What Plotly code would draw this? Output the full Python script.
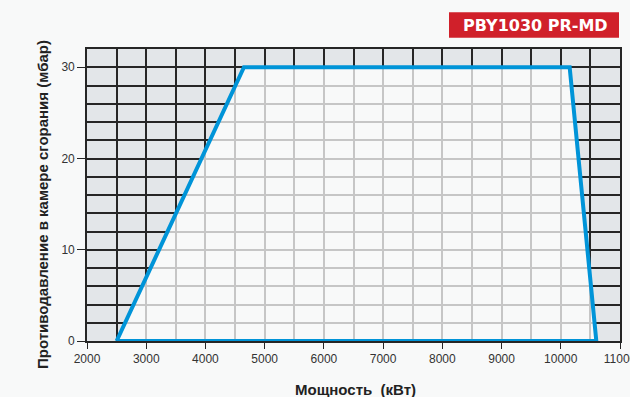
import plotly.graph_objects as go

# Data
power_kw = [2500, 4650, 10150, 10600, 2500]
pressure_mbar = [0, 30, 30, 0, 0]
x_ticks = [2000, 3000, 4000, 5000, 6000, 7000, 8000, 9000, 10000, 11000]
y_ticks = [0, 10, 20, 30]
title_text = "PBY1030 PR-MD"
x_title = "Мощность  (кВт)"
y_title = "Противодавление в камере сгорания (мбар)"

fig = go.Figure()
fig.add_trace(go.Scatter(
    x=power_kw, y=pressure_mbar, mode="lines",
    fill="toself", fillcolor="rgba(255,255,255,0.74)",
    line=dict(color="#0094d8", width=4),
    cliponaxis=False, hoverinfo="skip", showlegend=False,
))

dark = "#262626"
tick_font = dict(family="Liberation Sans, Arial", size=12, color="#333333")
fig.update_xaxes(
    range=[2000, 11000], tickvals=x_ticks, ticktext=[str(v) for v in x_ticks],
    showgrid=True, gridcolor=dark, gridwidth=1.6,
    minor=dict(dtick=500, showgrid=True, gridcolor=dark, gridwidth=1.6, ticks=""),
    showline=True, linecolor=dark, linewidth=1.6, mirror=True,
    ticks="outside", ticklen=6, tickcolor=dark, tickwidth=1.4,
    tickfont=tick_font, zeroline=False, layer="below traces",
    ticklabeloverflow="allow", automargin=False,
)
fig.update_yaxes(
    range=[0, 32], tickvals=y_ticks,
    showgrid=True, gridcolor=dark, gridwidth=1.6,
    minor=dict(dtick=2, showgrid=True, gridcolor=dark, gridwidth=1.6, ticks=""),
    showline=True, linecolor=dark, linewidth=1.6, mirror=True,
    ticks="outside", ticklen=8, tickcolor=dark, tickwidth=1.4,
    tickfont=tick_font, zeroline=False, layer="below traces",
    automargin=False,
)

# plot area target in page pixels: x 87..620, y 49..341
PL, PR, PT, PB = 87, 620, 49, 341
FW, FH = 630, 397
W, H = PR - PL, PB - PT

def px(x):
    return (x - PL) / W

def py(y):
    return (PB - y) / H

fig.update_layout(
    width=FW, height=FH,
    margin=dict(l=PL, r=FW - PR, t=PT, b=FH - PB),
    paper_bgcolor="#f8f9f9", plot_bgcolor="#e3e6e9",
    shapes=[dict(type="rect", xref="paper", yref="paper",
                 x0=px(449), x1=px(619), y0=py(37.7), y1=py(12.3),
                 fillcolor="#d0202a", line=dict(width=0), layer="above")],
    annotations=[
        dict(text=f"<b>{title_text}</b>", xref="paper", yref="paper",
             x=px(535), y=py(25.5), showarrow=False,
             font=dict(family="DejaVu Sans", size=16, color="white"),
             xanchor="center", yanchor="middle"),
        dict(text=f"<b>{x_title}</b>", xref="paper", yref="paper",
             x=px(355), y=py(389), showarrow=False,
             font=dict(family="Liberation Sans, Arial", size=15, color="#222222"),
             xanchor="center", yanchor="middle"),
        dict(text=f"<b>{y_title}</b>", xref="paper", yref="paper",
             x=px(42), y=py(205), showarrow=False, textangle=-90,
             font=dict(family="Liberation Sans, Arial", size=15, color="#222222"),
             xanchor="center", yanchor="middle"),
    ],
)

fig.write_html(
    "out.html",
    config={"displayModeBar": False},
    post_script="document.body.style.margin='0';document.body.style.overflow='hidden';",
)
